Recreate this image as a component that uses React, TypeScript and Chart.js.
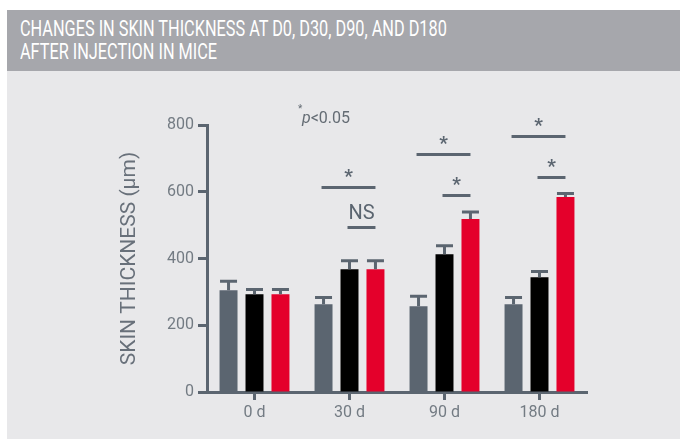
import React, { useEffect, useRef } from 'react';
import { Chart, registerables } from 'chart.js';

Chart.register(...registerables);

const categories = ['0 d', '30 d', '90 d', '180 d'];
const seriesNames = ['Control', 'Group 1', 'Group 2'];
const controlValues = [305, 263, 257, 263];
const controlErrors = [27, 20, 30, 20];
const group1Values = [293, 368, 413, 344];
const group1Errors = [14, 25, 25, 17];
const group2Values = [293, 368, 518, 584];
const group2Errors = [14, 25, 21, 11];
const yTickValues = [0, 200, 400, 600, 800];

// significance brackets: category, from bar, to bar, level, label
const sigCategory = [1, 1, 2, 2, 3, 3];
const sigFrom = [0, 1, 0, 1, 0, 1];
const sigTo = [2, 2, 2, 2, 2, 2];
const sigLevel = [615, 495, 712, 590, 768, 645];
const sigLabel = ['*', 'NS', '*', '*', '*', '*'];

const titleLines = ['CHANGES IN SKIN THICKNESS AT D0, D30, D90, AND D180', 'AFTER INJECTION IN MICE'];
const yTitle = 'SKIN THICKNESS (µm)';

const AXIS = '#5b6570';
const TICK_TEXT = '#737b83';
const BAR_COLORS = ['#5b6570', '#000000', '#e4002b'];

const seriesValues = [controlValues, group1Values, group2Values];
const seriesErrors = [controlErrors, group1Errors, group2Errors];

const annotationPlugin = {
  id: 'annotations',
  afterDatasetsDraw(chart: any) {
    const ctx = chart.ctx as CanvasRenderingContext2D;
    const y = chart.scales.y;
    ctx.save();
    ctx.strokeStyle = AXIS;
    ctx.lineWidth = 3;
    ctx.lineCap = 'butt';
    seriesErrors.forEach((errs, d) => {
      const meta = chart.getDatasetMeta(d);
      meta.data.forEach((bar: any, i: number) => {
        const top = y.getPixelForValue(seriesValues[d][i] + errs[i]);
        ctx.beginPath();
        ctx.moveTo(bar.x, bar.y);
        ctx.lineTo(bar.x, top);
        ctx.moveTo(bar.x - 8.5, top);
        ctx.lineTo(bar.x + 8.5, top);
        ctx.stroke();
      });
    });
    ctx.fillStyle = AXIS;
    ctx.textAlign = 'center';
    ctx.textBaseline = 'alphabetic';
    sigCategory.forEach((c, k) => {
      const x1 = chart.getDatasetMeta(sigFrom[k]).data[c].x - 2;
      const x2 = chart.getDatasetMeta(sigTo[k]).data[c].x;
      const py = Math.round(y.getPixelForValue(sigLevel[k])) + 0.5;
      ctx.beginPath();
      ctx.moveTo(x1, py);
      ctx.lineTo(x2, py);
      ctx.stroke();
      const cx = (x1 + x2) / 2;
      if (sigLabel[k] === 'NS') {
        ctx.font = '20px Roboto';
        ctx.fillText(sigLabel[k], cx, py - 9);
      } else {
        ctx.font = 'bold 19px Roboto';
        ctx.fillText(sigLabel[k], cx, py - 6);
      }
    });
    // p-value note
    ctx.fillStyle = '#646c74';
    ctx.textAlign = 'left';
    ctx.font = '10px Roboto';
    ctx.fillText('*', 298, 41);
    ctx.font = 'italic 16px Roboto';
    ctx.fillText('p', 302, 52);
    const pw = ctx.measureText('p').width;
    ctx.font = '16px Roboto';
    ctx.fillText('<0.05', 302 + pw, 52);
    ctx.restore();
  },
};

export default function App() {
  const canvasRef = useRef<HTMLCanvasElement | null>(null);

  useEffect(() => {
    const canvas = canvasRef.current;
    if (!canvas) return;
    Chart.defaults.font.family = 'Roboto';
    const chart = new Chart(canvas, {
      type: 'bar',
      data: {
        labels: categories,
        datasets: seriesValues.map((vals, d) => ({
          label: seriesNames[d],
          data: vals,
          backgroundColor: BAR_COLORS[d],
          borderWidth: 0,
          categoryPercentage: 0.82,
          barPercentage: 0.692,
        })),
      },
      options: {
        responsive: false,
        animation: false,
        devicePixelRatio: 1,
        layout: { padding: { left: 0, right: 93, top: 54, bottom: 0 } },
        plugins: { legend: { display: false }, tooltip: { enabled: false }, title: { display: false } },
        scales: {
          x: {
            offset: true,
            grid: {
              offset: false,
              drawOnChartArea: false,
              drawTicks: true,
              tickLength: 8,
              tickWidth: 3,
              tickColor: AXIS,
            },
            border: { display: true, color: AXIS, width: 3 },
            ticks: { color: TICK_TEXT, font: { size: 16 }, padding: 3 },
            afterFit(scale: any) {
              scale.height = 47;
            },
          },
          y: {
            min: 0,
            max: 800,
            afterBuildTicks(scale: any) {
              scale.ticks = yTickValues.map((v) => ({ value: v }));
            },
            grid: {
              drawOnChartArea: false,
              drawTicks: true,
              tickLength: 9,
              tickWidth: 3,
              tickColor: AXIS,
            },
            border: { display: true, color: AXIS, width: 3 },
            ticks: { color: TICK_TEXT, font: { size: 16 }, padding: 4 },
            title: {
              display: true,
              text: yTitle,
              color: '#68707a',
              font: { size: 21 },
              padding: { top: 117, bottom: 0 },
            },
            afterFit(scale: any) {
              scale.width = 207;
            },
          },
        },
      },
      plugins: [annotationPlugin],
    });
    return () => chart.destroy();
  }, []);

  return (
    <div style={{ position: 'fixed', left: 0, top: 0, width: 680, height: 439, background: '#ffffff', overflow: 'hidden' }}>
      <div style={{ position: 'absolute', left: 7, top: 10, width: 673, height: 61, background: '#a6a7ac' }}>
        <div
          style={{
            position: 'absolute',
            left: 13,
            top: 7,
            color: '#ffffff',
            fontFamily: 'Roboto',
            fontWeight: 400,
            fontSize: 22,
            lineHeight: '23.3px',
            whiteSpace: 'nowrap',
            transform: 'scaleX(0.74)',
            transformOrigin: 'left top',
          }}
        >
          {titleLines[0]}
          <br />
          {titleLines[1]}
        </div>
      </div>
      <div style={{ position: 'absolute', left: 7, top: 71, width: 673, height: 368, background: '#e8e8ea' }} />
      <canvas ref={canvasRef} width={680} height={368} style={{ position: 'absolute', left: 0, top: 71, width: 680, height: 368 }} />
    </div>
  );
}
